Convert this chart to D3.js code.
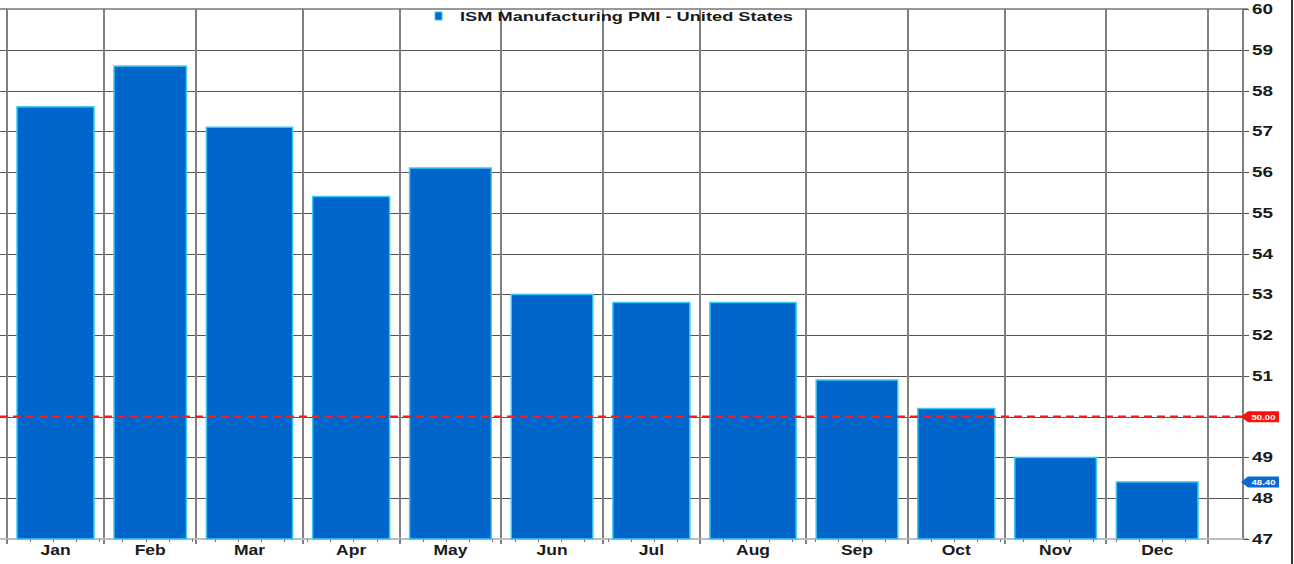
<!DOCTYPE html>
<html>
<head>
<meta charset="utf-8">
<script src="https://cdn.jsdelivr.net/npm/d3@7"></script>
<style>
  html, body { margin: 0; padding: 0; background: #fff; }
  svg { display: block; font-family: "Liberation Sans", Arial, sans-serif; }
</style>
</head>
<body>
<svg id="chart" width="1294" height="564"></svg>
<script>
// ISM Manufacturing PMI, monthly readings for 2022
const months = ["Jan", "Feb", "Mar", "Apr", "May", "Jun", "Jul", "Aug", "Sep", "Oct", "Nov", "Dec"];
const pmiValues = [57.6, 58.6, 57.1, 55.4, 56.1, 53.0, 52.8, 52.8, 50.9, 50.2, 49.0, 48.4];
const yTicks = [47, 48, 49, 50, 51, 52, 53, 54, 55, 56, 57, 58, 59, 60];
const seriesName = "ISM Manufacturing PMI - United States";
const thresholdValue = 50;
const year = 2022;

const svg = d3.select("#chart");

const start = new Date(year, 0, 1);
const end = new Date(year + 1, 0, 1);
const monthStarts = d3.range(13).map(i => new Date(year, i, 1));

// horizontal position follows trading weekdays (Mon-Fri)
const wd = date => d3.timeDay.range(start, date).filter(d => d.getDay() % 6 !== 0).length;
const plotLeft = 7, lastGrid = 1208, plotRight = 1243, plotTop = 9, plotBottom = 539;
const x = d3.scaleLinear().domain([0, wd(end)]).range([plotLeft, lastGrid]);
const y = d3.scaleLinear().domain([47, 60]).range([plotBottom, plotTop]);

// wide-set label text: positioned by translate, widened by a horizontal scale
const place = (sx) => (sel) => sel.attr("transform", function () {
  const tx = +this.getAttribute("data-x"), ty = +this.getAttribute("data-y");
  return `translate(${tx},${ty}) scale(${sx},1)`;
});

// horizontal grid
svg.append("g").selectAll("line").data(yTicks.filter(v => v !== 47 && v !== 60)).join("line")
  .attr("x1", 0).attr("x2", plotRight + 5)
  .attr("y1", d => Math.round(y(d)) + 0.5).attr("y2", d => Math.round(y(d)) + 0.5)
  .attr("stroke", "#555").attr("stroke-width", 1);
// top line
svg.append("line").attr("x1", 0).attr("x2", plotRight + 5)
  .attr("y1", y(60)).attr("y2", y(60)).attr("stroke", "#999").attr("stroke-width", 2);

// vertical month grid
svg.append("g").selectAll("line").data(monthStarts).join("line")
  .attr("x1", d => Math.round(x(wd(d)))).attr("x2", d => Math.round(x(wd(d))))
  .attr("y1", plotTop).attr("y2", plotBottom + 5)
  .attr("stroke", "#7f7f7f").attr("stroke-width", 2);
// right edge of plot
svg.append("line").attr("x1", plotRight).attr("x2", plotRight)
  .attr("y1", plotTop).attr("y2", plotBottom)
  .attr("stroke", "#7f7f7f").attr("stroke-width", 2);

// bottom axis line and weekly ticks
svg.append("line").attr("x1", 0).attr("x2", plotRight + 5)
  .attr("y1", plotBottom).attr("y2", plotBottom).attr("stroke", "#bdbdbd").attr("stroke-width", 2);
svg.append("g").selectAll("line").data(d3.timeMonday.range(start, end)).join("line")
  .attr("x1", d => Math.round(x(wd(d))) + 0.5).attr("x2", d => Math.round(x(wd(d))) + 0.5)
  .attr("y1", plotBottom).attr("y2", plotBottom + 3)
  .attr("stroke", "#777").attr("stroke-width", 1);

// bars
const inset = 10;
svg.append("g").selectAll("rect").data(pmiValues).join("rect")
  .attr("x", (d, i) => x(wd(monthStarts[i])) + inset)
  .attr("width", (d, i) => x(wd(monthStarts[i + 1])) - x(wd(monthStarts[i])) - 2 * inset)
  .attr("y", d => y(d))
  .attr("height", d => y(47) - y(d))
  .attr("fill", "#0066cc")
  .attr("stroke", "#3cc8f5").attr("stroke-width", 1.5);

// threshold line
svg.append("line").attr("x1", 0).attr("x2", plotRight)
  .attr("y1", y(thresholdValue)).attr("y2", y(thresholdValue))
  .attr("stroke", "#ff1a1a").attr("stroke-width", 2.2).attr("stroke-dasharray", "8,5");

// month labels
svg.append("g").selectAll("text").data(months).join("text")
  .attr("data-x", (d, i) => (x(wd(monthStarts[i])) + x(wd(monthStarts[i + 1]))) / 2)
  .attr("data-y", 555)
  .attr("text-anchor", "middle")
  .attr("font-weight", "bold").attr("font-size", 14).attr("fill", "#1a1a1a")
  .text(d => d)
  .call(place(1.25));

// right axis
const ya = svg.append("g");
ya.selectAll("line").data(yTicks).join("line")
  .attr("x1", plotRight).attr("x2", plotRight + 6)
  .attr("y1", d => Math.round(y(d)) + 0.5).attr("y2", d => Math.round(y(d)) + 0.5)
  .attr("stroke", "#555");
ya.selectAll("text").data(yTicks.filter(v => v !== thresholdValue)).join("text")
  .attr("data-x", plotRight + 9).attr("data-y", d => y(d) + 5)
  .attr("font-weight", "bold").attr("font-size", 14).attr("fill", "#1a1a1a")
  .text(d => d)
  .call(place(1.35));

// value tags on the axis
function tag(value, color) {
  const cy = y(value), x0 = plotRight - 2, h = 11, w = 38;
  svg.append("path")
    .attr("d", `M${x0},${cy} L${x0 + 7},${cy - h / 2} L${x0 + w},${cy - h / 2} L${x0 + w},${cy + h / 2} L${x0 + 7},${cy + h / 2} Z`)
    .attr("fill", color);
  svg.append("text")
    .attr("data-x", x0 + 7 + (w - 7) / 2).attr("data-y", cy + 3)
    .attr("text-anchor", "middle").attr("font-size", 8).attr("font-weight", "bold").attr("fill", "#fff")
    .text(value.toFixed(2))
    .call(place(1.2));
}
tag(thresholdValue, "#ff1010");
tag(pmiValues[pmiValues.length - 1], "#0a6ad0");

// frame edge
svg.append("line").attr("x1", 1292).attr("x2", 1292).attr("y1", 0).attr("y2", 564)
  .attr("stroke", "#333").attr("stroke-width", 2);

// legend
svg.append("rect").attr("x", 435).attr("y", 12).attr("width", 7).attr("height", 8)
  .attr("fill", "#0066cc").attr("stroke", "#3cc8f5").attr("stroke-width", 1);
svg.append("text").attr("x", 460).attr("y", 21)
  .attr("font-weight", "bold").attr("font-size", 13).attr("fill", "#1a1a1a")
  .attr("textLength", 333).attr("lengthAdjust", "spacingAndGlyphs")
  .text(seriesName);
</script>
</body>
</html>
